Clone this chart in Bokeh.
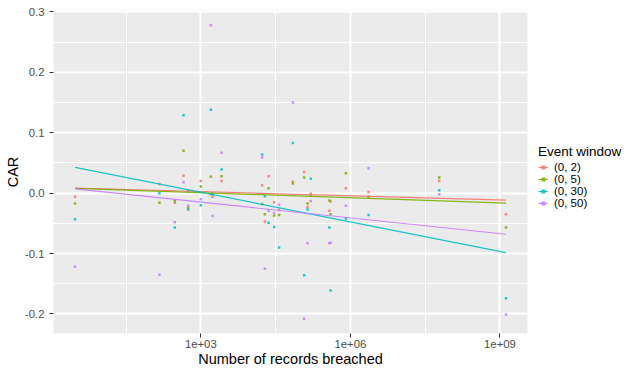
from bokeh.plotting import figure
from bokeh.layouts import row
from bokeh.models import (Range1d, FixedTicker, PrintfTickFormatter, Legend, LegendItem)
from bokeh.embed import file_html
from bokeh.resources import INLINE
import math

# ---- data ----
records = [3, 148, 301, 450, 556, 1000, 1588, 1718, 2600, 17000, 19240, 22850,
           29600, 37200, 70200, 118300, 138300, 161100, 379000, 401000, 813000,
           2317000, 60500000, 1321000000]

car_0_2 = [-0.006, 0.015, -0.016, 0.029, 0.003, 0.020, -0.002, -0.006, 0.020, 0.013,
           -0.047, 0.028, -0.015, -0.028, 0.019, 0.035, -0.023, -0.001, -0.029, -0.014,
           0.008, 0.002, 0.020, -0.035]
car_0_5 = [-0.017, -0.016, -0.013, 0.070, -0.024, 0.011, 0.027, -0.001, 0.028, -0.018,
           -0.035, 0.008, -0.037, -0.036, 0.016, 0.026, -0.017, -0.004, -0.012, -0.035,
           0.033, -0.006, 0.026, -0.057]
car_0_30 = [-0.043, 0.000, -0.057, 0.129, -0.027, -0.020, 0.138, -0.002, 0.039, 0.064,
            -0.005, -0.049, -0.056, -0.090, 0.083, -0.136, -0.027, 0.024, -0.057, -0.161,
            -0.042, -0.036, 0.005, -0.174]
car_0_50 = [-0.122, -0.135, -0.048, 0.018, -0.021, -0.010, 0.278, -0.038, 0.067, 0.059,
            -0.125, -0.029, -0.033, -0.019, 0.150, -0.208, -0.083, -0.013, -0.083, -0.082,
            -0.021, 0.041, -0.002, -0.201]

windows = ["(0, 2)", "(0, 5)", "(0, 30)", "(0, 50)"]
series = [car_0_2, car_0_5, car_0_30, car_0_50]
colors = ["#F8766D", "#7CAE00", "#00BFC4", "#C77CFF"]

# linear-fit lines (value at smallest and largest record count)
fit_start = [0.0085, 0.0080, 0.0427, 0.0070]
fit_end = [-0.0117, -0.0165, -0.0985, -0.0680]

x_major = [1e3, 1e6, 1e9]
x_minor = [10 ** 1.5, 10 ** 4.5, 10 ** 7.5]
x_labels = {1000: "1e+03", 1000000: "1e+06", 1000000000: "1e+09"}
y_major = [-0.2, -0.1, 0.0, 0.1, 0.2, 0.3]
y_minor = [-0.15, -0.05, 0.05, 0.15, 0.25]

# ---- scales (ggplot style 5% expansion) ----
lx = [math.log10(v) for v in records]
lmin, lmax = min(lx), max(lx)
dx = (lmax - lmin) * 0.05
all_y = [v for s in series for v in s]
ymin, ymax = min(all_y), max(all_y)
dy = (ymax - ymin) * 0.05

FONT = "Liberation Sans"
H = 369

p = figure(width=530, height=H, x_axis_type="log",
           x_range=Range1d(10 ** (lmin - dx), 10 ** (lmax + dx)),
           y_range=Range1d(ymin - dy, ymax + dy),
           output_backend="svg", toolbar_location=None,
           min_border_left=53, min_border_right=3,
           min_border_top=10, min_border_bottom=35)

p.background_fill_color = "#EBEBEB"
p.border_fill_color = "white"
p.outline_line_color = None

p.xaxis.ticker = FixedTicker(ticks=x_major, minor_ticks=x_minor)
p.yaxis.ticker = FixedTicker(ticks=y_major, minor_ticks=y_minor)
p.xaxis.major_label_overrides = x_labels
p.yaxis.formatter = PrintfTickFormatter(format="%.1f")

for ax in (p.xaxis, p.yaxis):
    ax.axis_line_color = None
    ax.major_tick_line_color = "#333333"
    ax.major_tick_out = 4
    ax.major_tick_in = 0
    ax.minor_tick_out = 0
    ax.minor_tick_in = 0
    ax.major_label_text_font = FONT
    ax.major_label_text_font_size = "11.3px"
    ax.major_label_text_color = "#4D4D4D"
    ax.axis_label_text_font = FONT
    ax.axis_label_text_font_size = "14.5px"
    ax.axis_label_text_font_style = "normal"
    ax.axis_label_text_color = "black"
    ax.axis_label_standoff = 0

p.xaxis.major_label_standoff = 2
p.yaxis.major_label_standoff = 5
p.yaxis.axis_label_standoff = 1

p.xaxis.axis_label = "Number of records breached"
p.yaxis.axis_label = "CAR"

for g in (p.xgrid, p.ygrid):
    g.grid_line_color = "white"
    g.grid_line_width = 2
    g.minor_grid_line_color = "white"
    g.minor_grid_line_width = 1

for vals, col in zip(series, colors):
    p.scatter(records, vals, marker="square", size=2.5, fill_color=col,
              line_color=None, fill_alpha=0.85)
for s0, s1, col in zip(fit_start, fit_end, colors):
    p.line([min(records), max(records)], [s0, s1], line_color=col,
           line_width=1.2, line_alpha=0.9)

# ---- legend panel (separate figure to the right) ----
q = figure(width=92, height=H, x_range=Range1d(0, 1), y_range=Range1d(0, 1),
           output_backend="svg", toolbar_location=None,
           x_axis_location=None, y_axis_location=None,
           min_border_left=0, min_border_right=0, min_border_top=0, min_border_bottom=0)
q.xgrid.visible = False
q.ygrid.visible = False
q.outline_line_color = None
q.background_fill_color = "white"
q.border_fill_color = "white"

items = []
for name, col in zip(windows, colors):
    # placeholder renderers outside the visible range, only for the legend keys
    r = q.scatter([5], [5], marker="square", size=2.5, fill_color=col,
                  line_color=None, fill_alpha=0.85)
    l = q.line([5, 6], [5, 5], line_color=col, line_width=1.2, line_alpha=0.9)
    items.append(LegendItem(label=name, renderers=[l, r]))

legend = Legend(items=items, location=(8, 124), title="Event window",
                title_text_font=FONT, title_text_font_size="13.5px",
                title_text_font_style="normal", title_text_color="black",
                title_standoff=2,
                label_text_font=FONT, label_text_font_size="11.5px",
                label_text_color="black",
                label_height=10, glyph_height=10, glyph_width=10,
                label_standoff=6, spacing=-6, padding=0, margin=0,
                background_fill_alpha=0, border_line_color=None)
q.add_layout(legend, "center")

layout = row(p, q)
open("out.html", "w").write(file_html(layout, INLINE))
